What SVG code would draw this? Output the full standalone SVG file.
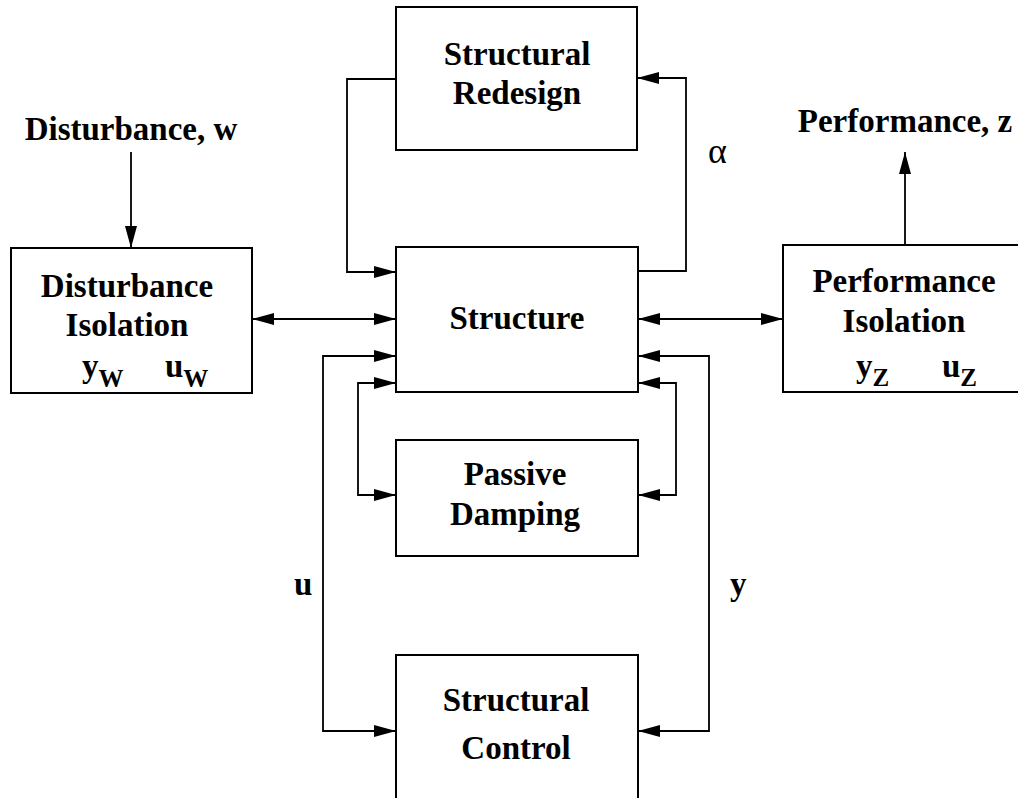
<svg xmlns="http://www.w3.org/2000/svg" width="1018" height="798" viewBox="0 0 1018 798">
<style>
.box{fill:#fff;stroke:#000;stroke-width:2}
.lbl{font-family:"Liberation Serif","Times New Roman",serif;font-weight:bold;font-size:33px;fill:#000;text-anchor:middle}
.sym{font-family:"Liberation Serif","Times New Roman",serif;font-weight:bold;font-size:33px;fill:#000}
.sub{font-family:"Liberation Serif","Times New Roman",serif;font-weight:bold;font-size:25px;fill:#000}
.c{fill:none;stroke:#000;stroke-width:1.8}
.a1{marker-end:url(#ah)}
.a2{marker-start:url(#ah);marker-end:url(#ah)}
</style>
<defs>
<marker id="ah" markerUnits="userSpaceOnUse" markerWidth="24" markerHeight="14" refX="22" refY="6" orient="auto-start-reverse">
<path d="M0,0 L22,6 L0,12 z" fill="#000"/>
</marker>
</defs>
<g id="connectors">
<path class="c a1" d="M396,79 H347 V272 H396"/>
<path class="c a1" d="M637,271 H686 V78 H637"/>
<path class="c a2" d="M252,319 H396"/>
<path class="c a2" d="M638,319 H783"/>
<path class="c a1" d="M131,152 V248"/>
<path class="c a1" d="M905,245 V152"/>
<path class="c a2" d="M396,356 H323 V731 H396"/>
<path class="c a2" d="M396,383 H358 V495 H396"/>
<path class="c a2" d="M638,383 H676 V495 H638"/>
<path class="c a2" d="M638,356 H709 V731 H638"/>
</g>
<g id="redesign">
<rect class="box" x="396" y="7" width="241" height="143"/>
<text class="lbl" x="517" y="65">Structural</text>
<text class="lbl" x="517" y="104">Redesign</text>
</g>
<g id="structure">
<rect class="box" x="396" y="247" width="242" height="145"/>
<text class="lbl" x="517" y="329">Structure</text>
</g>
<g id="disturbance-isolation">
<rect class="box" x="11" y="248" width="241" height="145"/>
<text class="lbl" x="127" y="297">Disturbance</text>
<text class="lbl" x="127" y="336">Isolation</text>
<text class="sym" x="82" y="377">y<tspan class="sub" dy="10">W</tspan></text>
<text class="sym" x="165" y="377">u<tspan class="sub" dy="10">W</tspan></text>
</g>
<g id="performance-isolation">
<rect class="box" x="783" y="245" width="245" height="147"/>
<text class="lbl" x="904" y="292">Performance</text>
<text class="lbl" x="904" y="332">Isolation</text>
<text class="sym" x="856" y="377">y<tspan class="sub" dy="9">Z</tspan></text>
<text class="sym" x="942" y="377">u<tspan class="sub" dy="9">Z</tspan></text>
</g>
<g id="passive-damping">
<rect class="box" x="396" y="440" width="242" height="116"/>
<text class="lbl" x="515" y="485">Passive</text>
<text class="lbl" x="515" y="525">Damping</text>
</g>
<g id="structural-control">
<rect class="box" x="396" y="655" width="242" height="160"/>
<text class="lbl" x="516" y="711">Structural</text>
<text class="lbl" x="516" y="759">Control</text>
</g>
<g id="labels">
<text class="lbl" x="131" y="140">Disturbance, w</text>
<text class="lbl" x="905" y="132">Performance, z</text>
<text x="708" y="163" style="font-family:'Liberation Serif','Times New Roman',serif;font-size:36px">α</text>
<text class="sym" x="294" y="595">u</text>
<text class="sym" x="730" y="595">y</text>
</g>
</svg>
